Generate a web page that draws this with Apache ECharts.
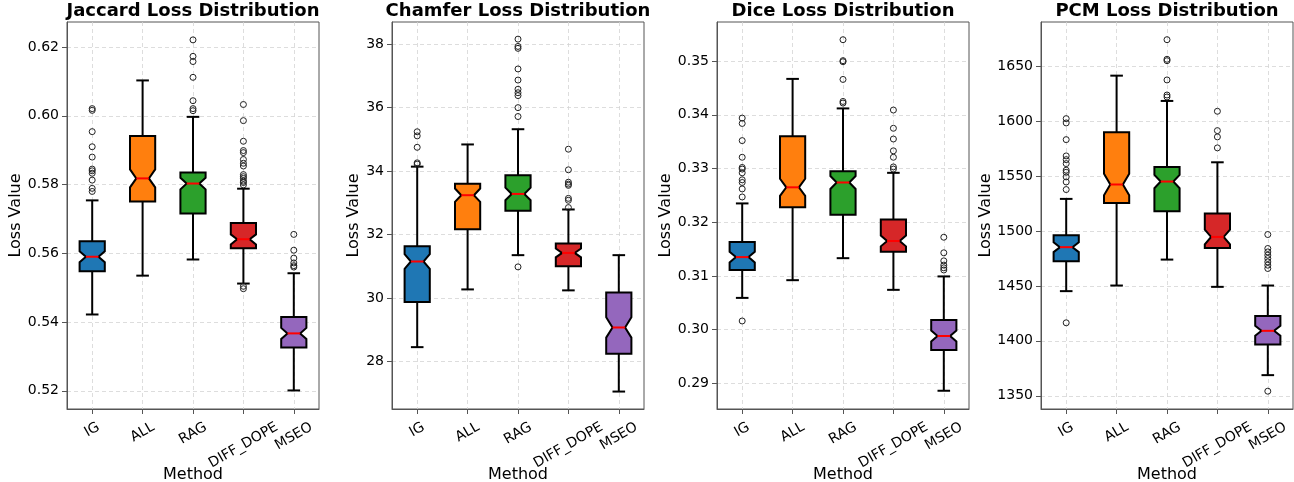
<!DOCTYPE html>
<html>
<head>
<meta charset="utf-8">
<script src="https://cdn.jsdelivr.net/npm/echarts@6/dist/echarts.min.js"></script>
<style>
html, body { margin: 0; padding: 0; background: #ffffff; }
#chart { width: 1294px; height: 482px; }
</style>
</head>
<body>
<div id="chart"></div>
<script>
// ---------------- DATA ----------------
const categories = ['IG', 'ALL', 'RAG', 'DIFF_DOPE', 'MSEO'];
const titles = ['Jaccard Loss Distribution', 'Chamfer Loss Distribution', 'Dice Loss Distribution', 'PCM Loss Distribution'];
const yAxisName = 'Loss Value';
const xAxisName = 'Method';

// each row: [whiskerLow, q1, notchLow, median, notchHigh, q3, whiskerHigh]
const jaccardStats = [
  [0.5422, 0.5548, 0.5574, 0.5590, 0.5606, 0.5635, 0.5754],
  [0.5535, 0.5751, 0.5792, 0.5818, 0.5844, 0.5941, 0.6103],
  [0.5582, 0.5716, 0.5786, 0.5803, 0.5820, 0.5835, 0.5997],
  [0.5512, 0.5615, 0.5626, 0.5641, 0.5655, 0.5688, 0.5788],
  [0.5201, 0.5326, 0.5351, 0.5367, 0.5383, 0.5415, 0.5542]
];
const jaccardOutliers = [
  [0.6021, 0.6016, 0.5954, 0.5910, 0.5880, 0.5845, 0.5840, 0.5833, 0.5813, 0.5789, 0.5780],
  [],
  [0.6221, 0.6173, 0.6158, 0.6112, 0.6044, 0.6021, 0.6015],
  [0.6033, 0.5986, 0.5926, 0.5899, 0.5893, 0.5873, 0.5862, 0.5854, 0.5829, 0.5823, 0.5818, 0.5810, 0.5806, 0.5799, 0.5504, 0.5497],
  [0.5655, 0.5609, 0.5586, 0.5572, 0.5564, 0.5560]
];
const jaccardTicks = [0.52, 0.54, 0.56, 0.58, 0.60, 0.62];
const jaccardRange = [0.5147, 0.6273];

const chamferStats = [
  [28.45, 29.87, 30.92, 31.15, 31.38, 31.63, 34.14],
  [30.27, 32.17, 33.03, 33.24, 33.45, 33.60, 34.84],
  [31.35, 32.75, 33.08, 33.28, 33.48, 33.87, 35.32],
  [30.24, 31.00, 31.28, 31.42, 31.56, 31.72, 32.79],
  [27.05, 28.24, 28.75, 29.07, 29.39, 30.17, 31.35]
];
const chamferOutliers = [
  [35.24, 35.11, 34.75, 34.26, 34.22],
  [],
  [38.16, 37.93, 37.87, 37.22, 36.87, 36.58, 36.47, 36.38, 36.00, 35.72, 30.98],
  [34.69, 34.04, 33.65, 33.59, 33.55, 33.14, 33.08, 32.85],
  []
];
const chamferTicks = [28, 30, 32, 34, 36, 38];
const chamferRange = [26.5, 38.7];

const diceStats = [
  [0.3059, 0.3111, 0.3125, 0.3135, 0.3145, 0.3163, 0.3235],
  [0.3092, 0.3228, 0.3249, 0.3265, 0.3281, 0.3360, 0.3467],
  [0.3133, 0.3214, 0.3262, 0.3274, 0.3286, 0.3295, 0.3412],
  [0.3074, 0.3145, 0.3155, 0.3165, 0.3175, 0.3205, 0.3292],
  [0.2886, 0.2962, 0.2978, 0.2988, 0.2998, 0.3018, 0.3099]
];
const diceOutliers = [
  [0.3394, 0.3384, 0.3352, 0.3321, 0.3302, 0.3299, 0.3292, 0.3279, 0.3274, 0.3262, 0.3247, 0.3016],
  [],
  [0.3540, 0.3501, 0.3499, 0.3466, 0.3425, 0.3422],
  [0.3409, 0.3375, 0.3355, 0.3333, 0.3321, 0.3303, 0.3299],
  [0.3172, 0.3143, 0.3128, 0.3120, 0.3115, 0.3111]
];
const diceTicks = [0.29, 0.30, 0.31, 0.32, 0.33, 0.34, 0.35];
const diceRange = [0.2852, 0.3573];

const pcmStats = [
  [1445.2, 1472.4, 1480.7, 1485.2, 1489.7, 1496.1, 1529.1],
  [1450.3, 1525.4, 1532.5, 1542.2, 1551.9, 1589.7, 1641.2],
  [1473.9, 1517.9, 1538.8, 1544.9, 1551.0, 1558.2, 1618.2],
  [1449.1, 1484.5, 1487.8, 1494.5, 1501.2, 1515.8, 1562.4],
  [1368.8, 1396.7, 1404.6, 1409.1, 1413.6, 1422.7, 1450.3]
];
const pcmOutliers = [
  [1602.1, 1598.2, 1583.0, 1568.2, 1564.8, 1561.2, 1555.2, 1553.3, 1549.1, 1544.5, 1537.6, 1416.4],
  [],
  [1673.9, 1656.1, 1654.8, 1637.3, 1623.6, 1621.8],
  [1608.8, 1591.2, 1585.5, 1575.5],
  [1496.7, 1484.0, 1480.9, 1477.9, 1474.9, 1471.8, 1468.8, 1465.8, 1354.2]
];
const pcmTicks = [1350, 1400, 1450, 1500, 1550, 1600, 1650];
const pcmRange = [1338, 1690];

// ---------------- LAYOUT / STYLE ----------------
const FONT = "'DejaVu Sans', sans-serif";
const boxColors = ['#1f77b4', '#ff7f0e', '#2ca02c', '#d62728', '#9467bd'];
const gridLefts = [67, 392, 717, 1041];
const gridWidth = 252;
const gridTop = 22;
const gridHeight = 387;
const yNameGaps = [42, 28, 43, 47];
const tickDecimals = [2, 0, 2, 0];
const spineColor = '#555555';
const gridLineStyle = { type: [4, 3], color: '#d4d4d4', width: 0.8 };

const panels = [
  { stats: jaccardStats, outliers: jaccardOutliers, ticks: jaccardTicks, range: jaccardRange },
  { stats: chamferStats, outliers: chamferOutliers, ticks: chamferTicks, range: chamferRange },
  { stats: diceStats, outliers: diceOutliers, ticks: diceTicks, range: diceRange },
  { stats: pcmStats, outliers: pcmOutliers, ticks: pcmTicks, range: pcmRange }
];

// rotated x labels centred under ticks (matplotlib rotation=30, ha='center')
const X_LABEL_SIZE = 14;
const measureCtx = document.createElement('canvas').getContext('2d');
measureCtx.font = X_LABEL_SIZE + "px 'DejaVu Sans'";
const LABEL_TOP_GAP = 10;
const LABEL_LINE_H = 16.3;
const xLabelRich = {};
categories.forEach((c, i) => {
  const w = measureCtx.measureText(c).width;
  const E = -(LABEL_TOP_GAP + w / 4 + 0.433 * LABEL_LINE_H);
  xLabelRich['c' + i] = {
    fontFamily: FONT, fontSize: X_LABEL_SIZE, color: '#000',
    padding: [-2 * E * Math.cos(Math.PI / 6), -E, 0, 0]
  };
});

function renderBox(params, api) {
  const i = api.value(0);
  const lo = api.value(1), q1 = api.value(2), cilo = api.value(3), med = api.value(4),
        cihi = api.value(5), q3 = api.value(6), hi = api.value(7);
  const band = api.size([1, 0])[0];
  const bw = band * 0.5;
  const cx = api.coord([i, med])[0];
  const Y = val => api.coord([i, val])[1];
  const bl = cx - bw / 2, br = cx + bw / 2, nl = cx - bw / 4, nr = cx + bw / 4;
  const pts = [
    [bl, Y(q1)], [br, Y(q1)], [br, Y(cilo)], [nr, Y(med)], [br, Y(cihi)], [br, Y(q3)],
    [bl, Y(q3)], [bl, Y(cihi)], [nl, Y(med)], [bl, Y(cilo)]
  ];
  const stroke = { stroke: '#000', lineWidth: 2 };
  return {
    type: 'group',
    children: [
      { type: 'line', shape: { x1: cx, y1: Y(q1), x2: cx, y2: Y(lo) }, style: stroke },
      { type: 'line', shape: { x1: cx, y1: Y(q3), x2: cx, y2: Y(hi) }, style: stroke },
      { type: 'line', shape: { x1: cx - bw / 4, y1: Y(lo), x2: cx + bw / 4, y2: Y(lo) }, style: stroke },
      { type: 'line', shape: { x1: cx - bw / 4, y1: Y(hi), x2: cx + bw / 4, y2: Y(hi) }, style: stroke },
      { type: 'polygon', shape: { points: pts }, style: { fill: boxColors[i], stroke: '#000', lineWidth: 2, lineJoin: 'miter' } },
      { type: 'line', shape: { x1: nl, y1: Y(med), x2: nr, y2: Y(med) }, style: { stroke: '#ff0000', lineWidth: 2 } }
    ]
  };
}

const option = {
  animation: false,
  backgroundColor: '#ffffff',
  title: [], grid: [], xAxis: [], yAxis: [], series: []
};

panels.forEach((p, k) => {
  option.grid.push({
    left: gridLefts[k], top: gridTop, width: gridWidth, height: gridHeight,
    containLabel: false, outerBoundsMode: 'none',
    show: true, borderColor: spineColor, borderWidth: 1, backgroundColor: '#fff'
  });
  option.title.push({
    text: titles[k], left: gridLefts[k] + gridWidth / 2, top: 2, textAlign: 'center', padding: 0,
    textStyle: { fontFamily: FONT, fontSize: 18, fontWeight: 'bold', color: '#000' }
  });
  option.xAxis.push({
    type: 'category', gridIndex: k, data: categories, boundaryGap: true,
    name: xAxisName, nameLocation: 'middle', nameGap: 58, nameMoveOverlap: false,
    nameTextStyle: { fontFamily: FONT, fontSize: 16, color: '#000' },
    axisLine: { show: true, lineStyle: { color: spineColor, width: 1 } },
    axisTick: { show: true, alignWithLabel: true, length: 5, lineStyle: { color: spineColor } },
    axisLabel: {
      interval: 0, rotate: 30, margin: 0, align: 'center', verticalAlign: 'middle',
      fontFamily: FONT, fontSize: X_LABEL_SIZE, color: '#000',
      formatter: (v, idx) => '{c' + idx + '|' + v + '}',
      rich: xLabelRich
    },
    splitLine: { show: true, alignWithLabel: true, lineStyle: gridLineStyle }
  });
  option.yAxis.push({
    type: 'value', gridIndex: k, min: p.range[0], max: p.range[1],
    name: yAxisName, nameLocation: 'middle', nameGap: yNameGaps[k],
    nameTextStyle: { fontFamily: FONT, fontSize: 16, color: '#000' },
    axisLine: { show: true, lineStyle: { color: spineColor, width: 1 } },
    axisTick: { show: true, length: 5, customValues: p.ticks, lineStyle: { color: spineColor } },
    axisLabel: {
      customValues: p.ticks, margin: 8, fontFamily: FONT, fontSize: 14, color: '#000',
      formatter: v => Number(v).toFixed(tickDecimals[k])
    },
    splitLine: { show: true, lineStyle: gridLineStyle }
  });
  option.series.push({
    type: 'custom', xAxisIndex: k, yAxisIndex: k, renderItem: renderBox, z: 2,
    encode: { x: 0, y: [1, 2, 3, 4, 5, 6, 7] },
    data: p.stats.map((s, i) => [i].concat(s))
  });
  const pts = [];
  p.outliers.forEach((arr, i) => arr.forEach(v => pts.push([i, v])));
  option.series.push({
    type: 'scatter', xAxisIndex: k, yAxisIndex: k, z: 3,
    symbol: 'circle', symbolSize: 6,
    itemStyle: { color: 'rgba(0,0,0,0)', borderColor: '#222', borderWidth: 1, opacity: 1 },
    data: pts
  });
});

const chart = echarts.init(document.getElementById('chart'), null, { renderer: 'canvas' });
chart.setOption(option);
</script>
</body>
</html>
